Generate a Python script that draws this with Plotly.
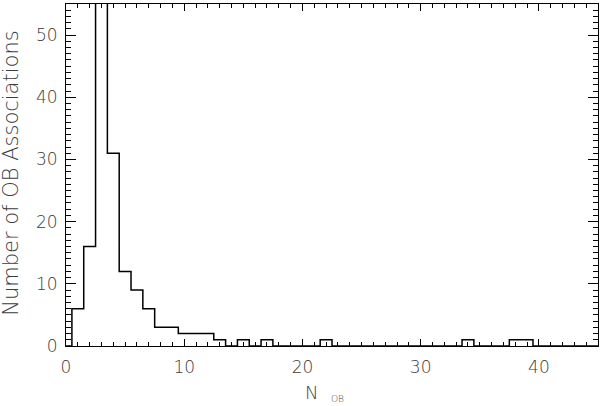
import plotly.graph_objects as go

# Data: histogram of N_OB (bin centers are integers, width 1)
n_ob = list(range(0, 46))
counts = [0, 6, 16, 80, 31, 12, 9, 6, 3, 3,
          2, 2, 2, 1, 0, 1, 0, 1, 0, 0,
          0, 0, 1, 0, 0, 0, 0, 0, 0, 0,
          0, 0, 0, 0, 1, 0, 0, 0, 1, 1,
          0, 0, 0, 0, 0, 0]
x_ticks = [0, 10, 20, 30, 40]
y_ticks = [0, 10, 20, 30, 40, 50]

FONT = "DejaVu Sans"
TXT = "#3c3c3c"
FS = 17
W = 200

fig = go.Figure()
fig.add_trace(go.Scatter(
    x=n_ob, y=counts, mode="lines", line_shape="hvh",
    line=dict(color="black", width=1.5), showlegend=False, hoverinfo="skip"))

fig.update_layout(
    width=600, height=406,
    margin=dict(l=66, r=2, t=4, b=60, autoexpand=False),
    paper_bgcolor="white", plot_bgcolor="white",
    font=dict(family=FONT, size=FS, color=TXT, weight=W),
)
fig.update_xaxes(
    range=[0, 45], tickvals=x_ticks, ticktext=[str(v) for v in x_ticks],
    ticks="inside", ticklen=7, tickwidth=1, tickcolor="black",
    showline=True, linecolor="black", linewidth=1, mirror="ticks",
    showgrid=False, zeroline=False, automargin=False,
    minor=dict(ticks="inside", ticklen=4, dtick=1, tick0=0, tickcolor="black", showgrid=False),
    tickfont=dict(family=FONT, size=FS, color=TXT, weight=W), ticklabelstandoff=6,
)
fig.update_yaxes(
    range=[0, 55], tickvals=y_ticks, ticktext=[str(v) for v in y_ticks],
    ticks="inside", ticklen=10, tickwidth=1, tickcolor="black",
    showline=True, linecolor="black", linewidth=1, mirror="ticks",
    showgrid=False, zeroline=False, automargin=False,
    minor=dict(ticks="inside", ticklen=5, dtick=1, tick0=0, tickcolor="black", showgrid=False),
    tickfont=dict(family=FONT, size=FS, color=TXT, weight=W), ticklabelstandoff=4,
)

# Axis titles as annotations for exact placement
fig.add_annotation(text="Number of OB Associations", xref="paper", yref="paper",
                   x=-0.105, y=0.504, xanchor="center", yanchor="middle", textangle=-90,
                   showarrow=False, font=dict(family=FONT, size=21, color=TXT, weight=W))
fig.add_annotation(text="N", xref="paper", yref="paper",
                   x=0.4615, y=-0.1374, xanchor="center", yanchor="middle",
                   showarrow=False, font=dict(family=FONT, size=18, color=TXT, weight=W))
fig.add_annotation(text="OB", xref="paper", yref="paper",
                   x=0.5103, y=-0.1564, xanchor="center", yanchor="middle",
                   showarrow=False, font=dict(family=FONT, size=9, color=TXT, weight=W))

fig.write_html("out.html", config={"displayModeBar": False},
               post_script="document.body.style.margin='0';document.body.style.overflow='hidden';")
